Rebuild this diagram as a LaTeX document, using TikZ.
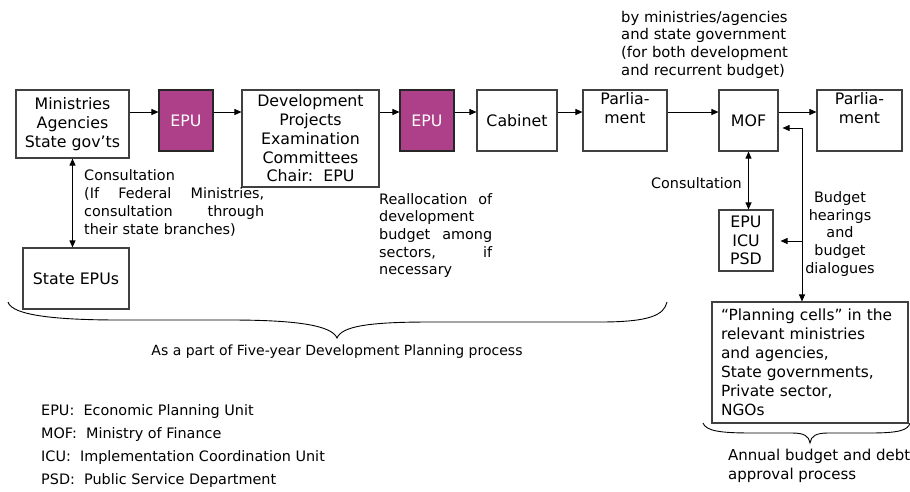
\documentclass[tikz,border=0pt]{standalone}
\usepackage{fontspec}
\setmainfont{DejaVu Sans}
\usetikzlibrary{positioning,arrows.meta}
\definecolor{epupurple}{RGB}{174,64,138}
\newcommand{\jline}[2]{\leavevmode\hbox to #1{#2}}

\begin{document}
\begin{tikzpicture}
   [x=1pt,y=-1pt,
    every node/.style={inner sep=0pt,font=\fontsize{14.4}{17.7}\selectfont},
    box/.style={draw=black!75,line width=1.1pt,align=center,font=\fontsize{15.8}{18.8}\selectfont},
    epubox/.style={box,draw=black!85,fill=epupurple,text=white},
    arr/.style={-{Triangle[length=7pt,width=6pt]},line width=0.9pt},
    darr/.style={{Triangle[length=7pt,width=6pt]}-{Triangle[length=7pt,width=6pt]},line width=0.9pt},
    brace/.style={line width=0.9pt}]

\useasboundingbox (0,0) rectangle (910,491);

%%%%%%%%%%%%%%%%%%%%%%%%%%%%%%%%%%%%%%%%%%%%%%%%%%%%%%%%%%%%%%%
% Main row of boxes
%%%%%%%%%%%%%%%%%%%%%%%%%%%%%%%%%%%%%%%%%%%%%%%%%%%%%%%%%%%%%%%

\node[box,minimum width=113pt,minimum height=68pt] (mini) at (72.5,124) {Ministries\\Agencies\\State gov’ts};
\node[epubox,minimum width=54pt,minimum height=61pt] (epu1) at (186,120.5) {EPU};
\node[box,minimum width=137pt,minimum height=97pt] (dpec) at (310.5,138.5) {Development\\Projects\\Examination\\Committees\\Chair:~~EPU};
\node[epubox,minimum width=54pt,minimum height=61pt] (epu2) at (427,120.5) {EPU};
\node[box,minimum width=80pt,minimum height=61pt] (cab) at (517,120.5) {Cabinet};
\node[box,minimum width=84pt,minimum height=61pt] (parl1) at (625,120.5) {Parlia-\\ment\\\strut};
\node[box,minimum width=59pt,minimum height=61pt] (mof) at (748.5,120.5) {MOF};
\node[box,minimum width=85pt,minimum height=61pt] (parl2) at (859.5,120.5) {Parlia-\\ment\\\strut};

% Boxes below
\node[box,minimum width=106pt,minimum height=61pt] (sepu) at (76,278.5) {State EPUs};
\node[box,minimum width=54pt,minimum height=61pt] (eip) at (746,240.5) {EPU\\ICU\\PSD};
\node[box,minimum width=196pt,minimum height=121pt,text width=178pt,align=left,
      font=\fontsize{15.4}{19}\selectfont] (cells) at (810,362.5)
      {“Planning cells” in the\\relevant ministries\\and agencies,\\State governments,\\Private sector,\\NGOs};

%%%%%%%%%%%%%%%%%%%%%%%%%%%%%%%%%%%%%%%%%%%%%%%%%%%%%%%%%%%%%%%
% Connecting nodes
%%%%%%%%%%%%%%%%%%%%%%%%%%%%%%%%%%%%%%%%%%%%%%%%%%%%%%%%%%%%%%%

\coordinate (row) at (0,112);
\draw[arr] (mini.east |- row) -- (epu1.west |- row);
\draw[arr] (epu1.east |- row) -- (dpec.west |- row);
\draw[arr] (dpec.east |- row) -- (epu2.west |- row);
\draw[arr] (epu2.east |- row) -- (cab.west |- row);
\draw[arr] (cab.east |- row) -- (parl1.west |- row);
\draw[arr] (parl1.east |- row) -- (mof.west |- row);
\draw[arr] (mof.east |- row) -- (parl2.west |- row);

\draw[darr] (mini.south) -- (mini.south |- sepu.north);
\draw[darr] (mof.south) -- (mof.south |- eip.north);

% Budget hearings line
\coordinate (bus) at (802,128);
\coordinate (busmid) at (802,241);
\draw[arr] (bus) -- ([xshift=4pt]mof.east |- bus);
\draw[arr] (bus) -- (bus |- cells.north);
\draw[arr] (busmid) -- ([xshift=7pt]eip.east |- busmid);

%%%%%%%%%%%%%%%%%%%%%%%%%%%%%%%%%%%%%%%%%%%%%%%%%%%%%%%%%%%%%%%
% Labels
%%%%%%%%%%%%%%%%%%%%%%%%%%%%%%%%%%%%%%%%%%%%%%%%%%%%%%%%%%%%%%%

\node[anchor=west,align=left,font=\fontsize{14.8}{17.7}\selectfont] (bywho) at (621,44.5) {by ministries/agencies\\and state government\\(for both development\\and recurrent budget)};

\node[anchor=west,align=left,text width=180pt] (consl) at (84,203)
  {Consultation\\\jline{180pt}{(If\hfill Federal\hfill Ministries,}\\\jline{180pt}{consultation\hfill through}\\their state branches)};

\node[anchor=west,align=left,text width=113pt] (realloc) at (379,235.5)
  {\jline{113pt}{Reallocation\hfill of}\\development\\\jline{113pt}{budget\hfill among}\\\jline{113pt}{sectors,\hfill if}\\necessary};

\node[anchor=east] (consr) at (742,183) {Consultation};
\node[align=center] (hear) at (840,234) {Budget\\hearings\\and\\budget\\dialogues};

% Curly braces
\draw[brace] (8,302) .. controls (12,316) and (60,320) .. (120,320) -- (230,320)
   .. controls (300,320) and (332,326) .. (337,338)
   .. controls (342,326) and (370,322) .. (430,322) -- (600,322)
   .. controls (650,322) and (664,315) .. (667,302);
\node[font=\fontsize{14}{17}\selectfont] (fiveyr) at (337,352) {As a part of Five-year Development Planning process};

\draw[brace] (703,423) .. controls (706,431) and (720,433) .. (752,433) -- (792,433)
   .. controls (804,433) and (809,436) .. (810,443)
   .. controls (811,436) and (816,433) .. (828,433) -- (870,433)
   .. controls (900,433) and (908,430) .. (910,423);
\node[anchor=west,align=left,font=\fontsize{15}{19.5}\selectfont] (annual) at (728,466) {Annual budget and debt\\approval process};

% Abbreviations
\node[anchor=west] (leg1) at (41,412) {EPU:~~Economic Planning Unit};
\node[anchor=west] (leg2) at (41,435) {MOF:~~Ministry of Finance};
\node[anchor=west] (leg3) at (41,458) {ICU:~~Implementation Coordination Unit};
\node[anchor=west] (leg4) at (41,481) {PSD:~~Public Service Department};

\end{tikzpicture}
\end{document}
